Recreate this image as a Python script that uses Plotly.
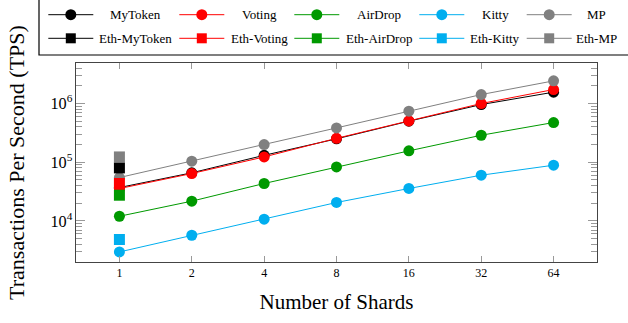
import plotly.graph_objects as go

shards = [1, 2, 4, 8, 16, 32, 64]

mytoken = [37000, 66000, 131000, 250000, 500000, 960000, 1560000]
voting = [35600, 64200, 123000, 255000, 505000, 1000000, 1730000]
airdrop = [12000, 21700, 43400, 83200, 156000, 288000, 474000]
kitty = [2960, 5700, 10700, 20600, 35700, 60100, 88900]
mp = [54800, 104000, 200000, 384000, 739000, 1420000, 2430000]

eth_x = [1]
eth_mytoken = [80000]
eth_voting = [43400]
eth_airdrop = [27400]
eth_kitty = [4820]
eth_mp = [123000]

series_names = ["MyToken", "Voting", "AirDrop", "Kitty", "MP"]
colors = {
    "MyToken": "#000000",
    "Voting": "#ff0000",
    "AirDrop": "#009900",
    "Kitty": "#00aeef",
    "MP": "#808080",
}

serif = "Liberation Serif"

W, H = 628, 323
ML, MR, MT, MB = 76, 31, 63, 61
PW, PH = W - ML - MR, H - MT - MB


def px(x):
    return (x - ML) / PW


def py(y):
    return (H - MB - y) / PH


fig = go.Figure()

for name, vals in zip(series_names, [mytoken, voting, airdrop, kitty, mp]):
    fig.add_trace(go.Scatter(
        x=shards, y=vals, name=name, mode="lines+markers",
        line=dict(color=colors[name], width=1),
        marker=dict(symbol="circle", size=11, color=colors[name]),
    ))

for name, vals in zip(series_names, [eth_mytoken, eth_voting, eth_airdrop, eth_kitty, eth_mp]):
    fig.add_trace(go.Scatter(
        x=eth_x, y=vals, name="Eth-" + name, mode="lines+markers",
        line=dict(color=colors[name], width=1),
        marker=dict(symbol="square", size=11, color=colors[name]),
    ))

# Legend: two rows (plain / Eth- variants), five columns
shapes = []
annotations = []
shapes.append(dict(type="rect", xref="paper", yref="paper",
                   x0=px(39), x1=px(630), y0=py(55), y1=py(-3),
                   line=dict(color="black", width=1.2), fillcolor="rgba(0,0,0,0)",
                   layer="above"))
col_line_x = [48.3, 179.3, 294.3, 419.3, 526.7]
col_text_x = [135.7, 259.3, 379.3, 495.0, 596.7]
row_y = [14.7, 38.3]
line_len = 45
for c, name in enumerate(series_names):
    col = colors[name]
    for r, (label, sym) in enumerate([(name, "circle"), ("Eth-" + name, "square")]):
        yy = row_y[r]
        x0 = col_line_x[c]
        xm = x0 + line_len / 2
        shapes.append(dict(type="line", xref="paper", yref="paper",
                           x0=px(x0), x1=px(x0 + line_len), y0=py(yy), y1=py(yy),
                           line=dict(color=col, width=1), layer="above"))
        if sym == "circle":
            shapes.append(dict(type="circle", xref="paper", yref="paper",
                               x0=px(xm - 5.5), x1=px(xm + 5.5),
                               y0=py(yy + 5.5), y1=py(yy - 5.5),
                               line=dict(width=0), fillcolor=col, layer="above"))
        else:
            shapes.append(dict(type="rect", xref="paper", yref="paper",
                               x0=px(xm - 5), x1=px(xm + 5),
                               y0=py(yy + 5), y1=py(yy - 5),
                               line=dict(width=0), fillcolor=col, layer="above"))
        annotations.append(dict(xref="paper", yref="paper", x=px(col_text_x[c]), y=py(yy),
                                text=label, showarrow=False, xanchor="center",
                                yanchor="middle",
                                font=dict(family=serif, size=13, color="black")))

fig.update_layout(
    width=W, height=H,
    margin=dict(l=ML, r=MR, t=MT, b=MB, autoexpand=False),
    paper_bgcolor="white", plot_bgcolor="white",
    font=dict(family=serif, color="black", size=12),
    showlegend=False,
    shapes=shapes,
    annotations=annotations,
)

fig.update_xaxes(
    type="log", range=[-0.1806, 1.9868],
    tickvals=shards, ticktext=[str(s) for s in shards],
    ticks="inside", ticklen=6, tickcolor="#999999", mirror="ticks",
    showline=True, linecolor="#444444", linewidth=1, showgrid=False,
    tickfont=dict(family=serif, size=12),
    title=dict(text="Number of Shards", font=dict(family=serif, size=21), standoff=14),
)
fig.update_yaxes(
    type="log", range=[3.30, 6.69], dtick=1, exponentformat="power",
    ticks="inside", ticklen=9, tickcolor="#999999", mirror="ticks",
    showline=True, linecolor="#444444", linewidth=1, showgrid=False,
    tickfont=dict(family=serif, size=13),
    minor=dict(ticks="inside", ticklen=6, tickcolor="#999999", dtick="D1", showgrid=False),
    title=dict(text="Transactions Per Second (TPS)", font=dict(family=serif, size=22), standoff=19),
)

fig.write_html("out.html")
